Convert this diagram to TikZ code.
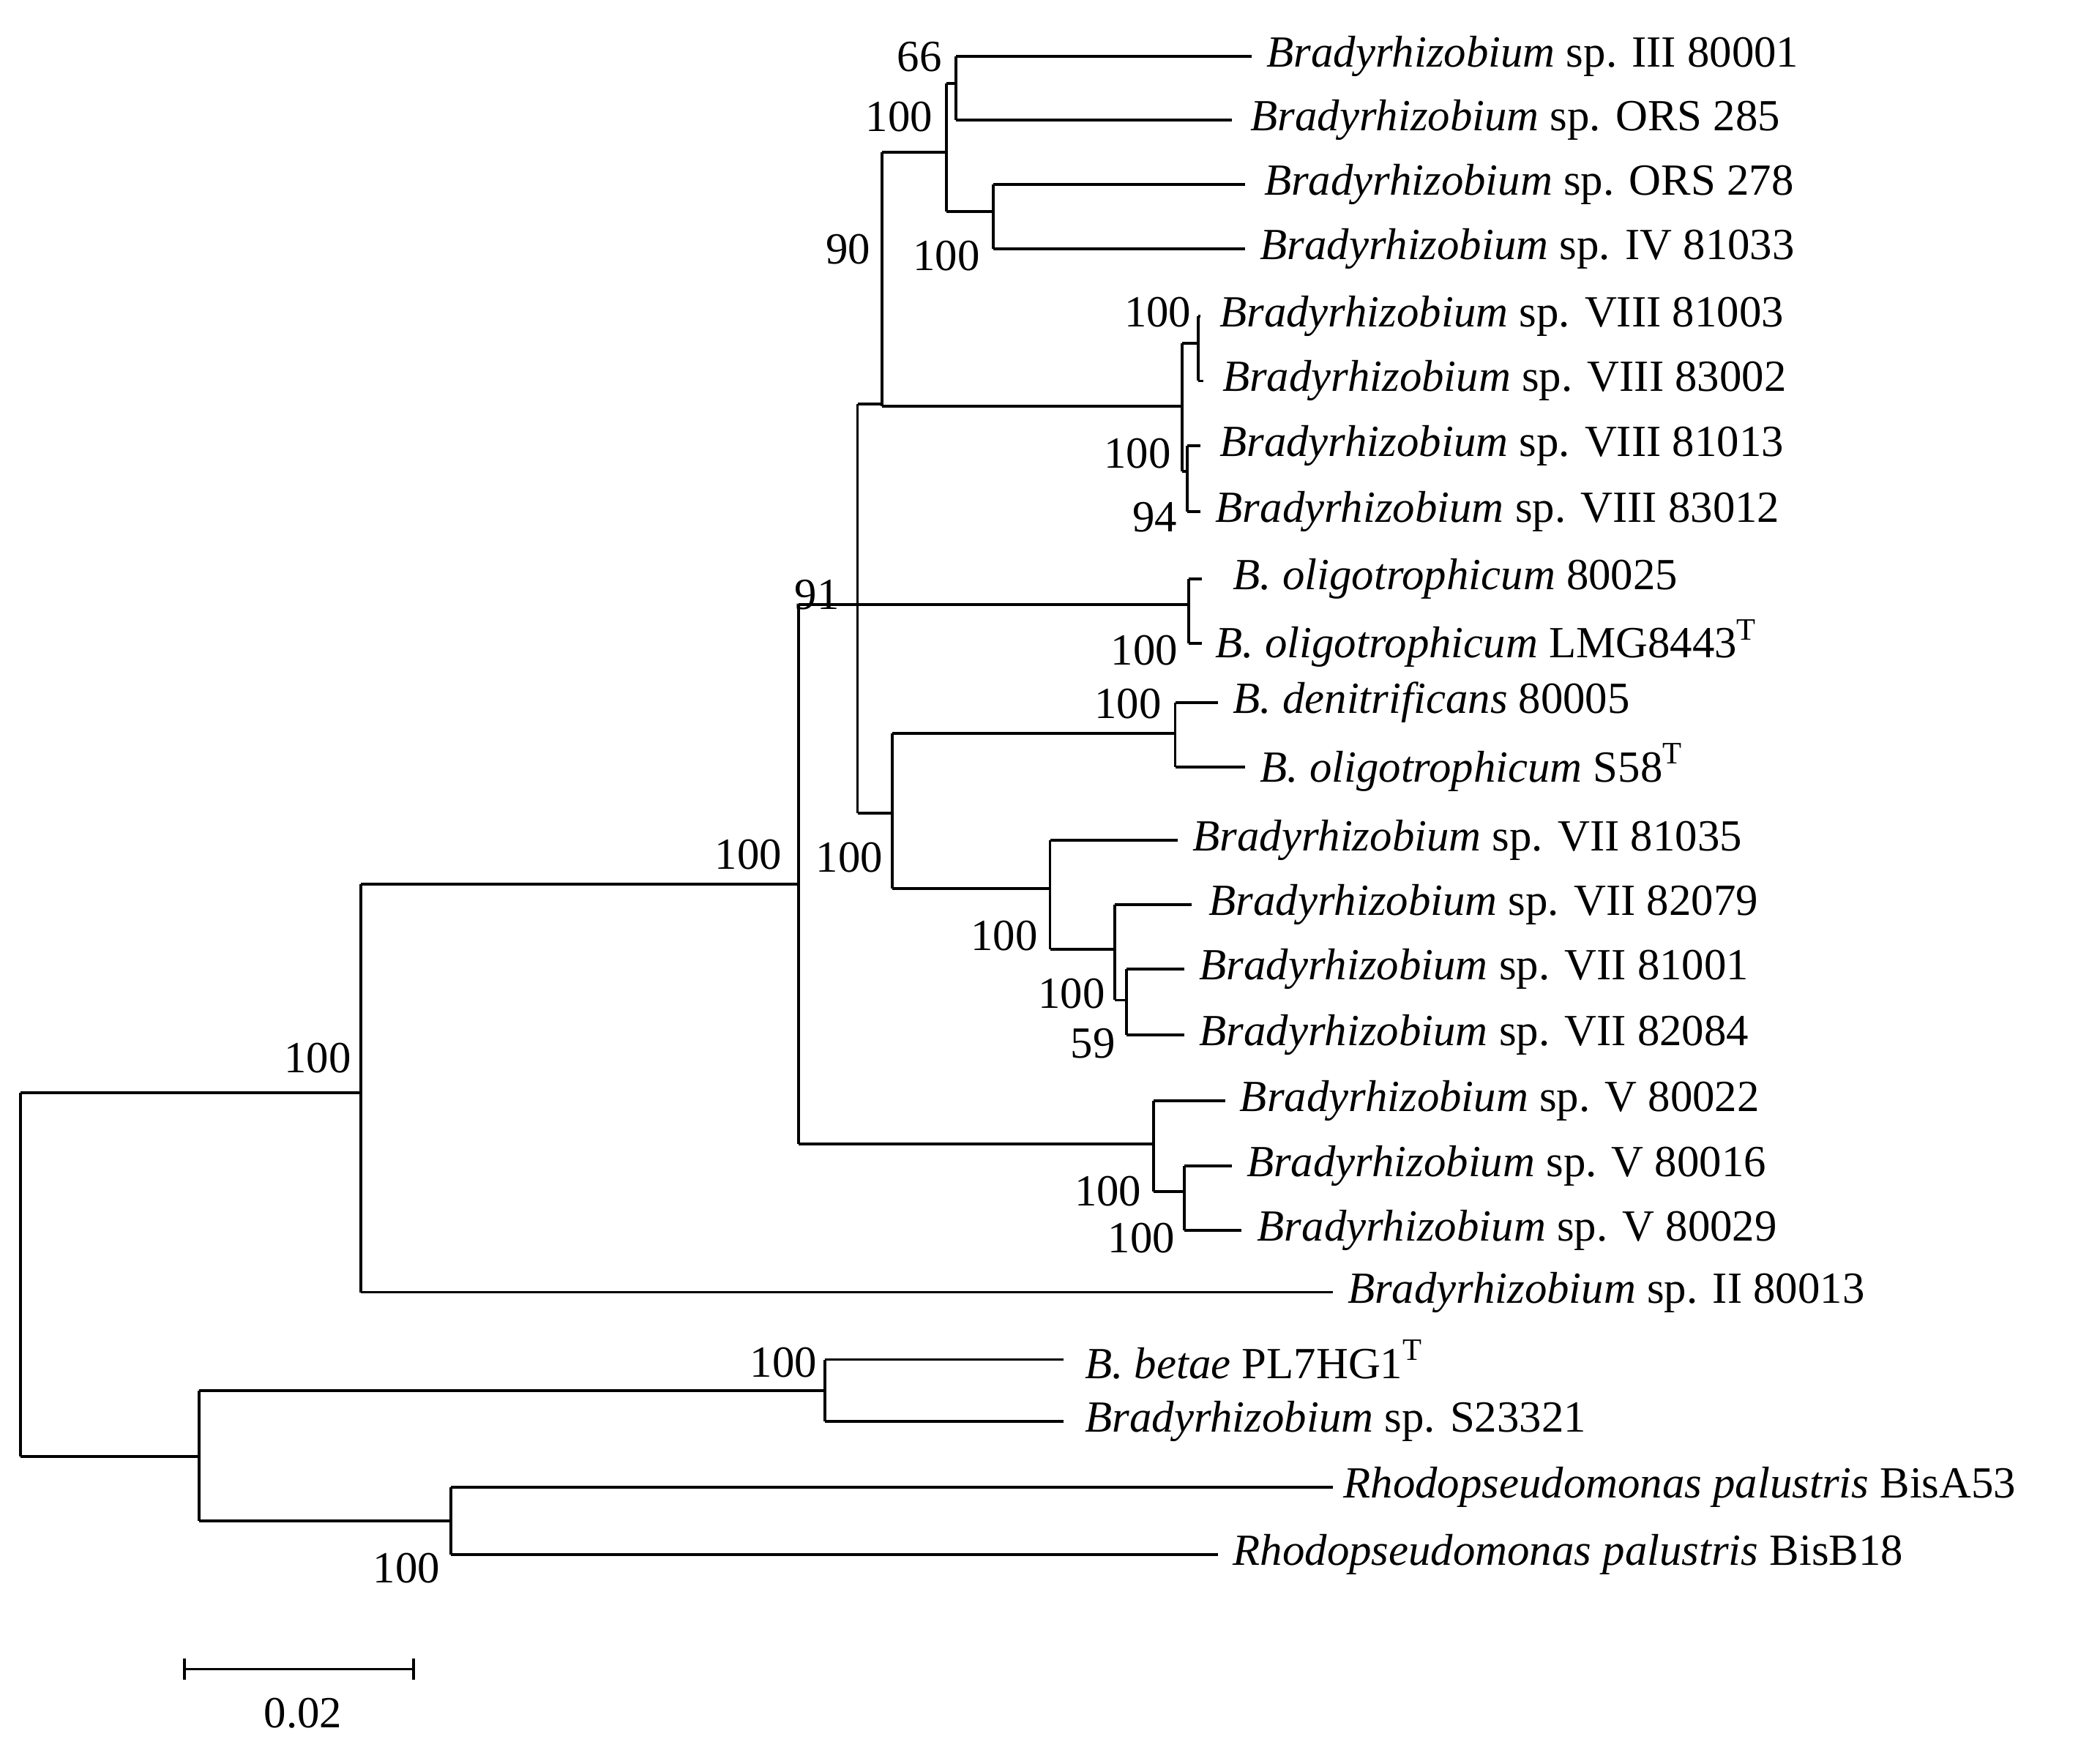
\documentclass[tikz,border=0pt]{standalone}
\usepackage{fontspec}
\setmainfont{Liberation Serif}
\begin{document}
\begin{tikzpicture}[x=0.01cm,y=-0.01cm,line width=0.6pt,
 lf/.style={anchor=west,inner sep=0pt,font=\fontsize{9.4}{10}\selectfont},
 bs/.style={inner sep=0pt,font=\fontsize{9.4}{10}\selectfont}]
\useasboundingbox (0,0) rectangle (1560,1300);
% leaves: name, y, node x, line end, label x, text
\foreach \n/\y/\px/\e/\lx/\t in {
 l1/42/710/930/940/{\textit{Bradyrhizobium} sp. III 80001},
 l2/89/710/915/928/{\textit{Bradyrhizobium} sp. ORS 285},
 l3/137/738/925/938/{\textit{Bradyrhizobium} sp. ORS 278},
 l4/185/738/925/935/{\textit{Bradyrhizobium} sp. IV 81033},
 l5/235/890/892/905/{\textit{Bradyrhizobium} sp. VIII 81003},
 l6/283/890/894/907/{\textit{Bradyrhizobium} sp. VIII 83002},
 l7/331/882/892/905/{\textit{Bradyrhizobium} sp. VIII 81013},
 l8/380/882/892/902/{\textit{Bradyrhizobium} sp. VIII 83012},
 l9/430/883/893/915/{\textit{B. oligotrophicum} 80025},
 l10/478/883/893/902/{\textit{B. oligotrophicum} LMG8443\textsuperscript{T}},
 l11/522/873/905/915/{\textit{B. denitrificans} 80005},
 l12/570/873/925/935/{\textit{B. oligotrophicum} S58\textsuperscript{T}},
 l13/624/780/875/885/{\textit{Bradyrhizobium} sp. VII 81035},
 l14/672/828/885/897/{\textit{Bradyrhizobium} sp. VII 82079},
 l15/720/837/880/890/{\textit{Bradyrhizobium} sp. VII 81001},
 l16/769/837/880/890/{\textit{Bradyrhizobium} sp. VII 82084},
 l17/818/857/910/920/{\textit{Bradyrhizobium} sp. V 80022},
 l18/866/880/915/925/{\textit{Bradyrhizobium} sp. V 80016},
 l19/914/880/922/933/{\textit{Bradyrhizobium} sp. V 80029},
 l20/960/268/990/1000/{\textit{Bradyrhizobium} sp. II 80013},
 l21/1010/613/790/805/{\textit{B. betae} PL7HG1\textsuperscript{T}},
 l22/1056/613/790/805/{\textit{Bradyrhizobium} sp. S23321},
 l23/1105/335/990/997/{\textit{Rhodopseudomonas palustris} BisA53},
 l24/1155/335/905/915/{\textit{Rhodopseudomonas palustris} BisB18}}
{\draw (\px,\y) -- (\e,\y); \node[lf] (\n) at (\lx,\y) {\t};}
% internal nodes: x, ytop, ybottom, parent x
\foreach \x/\a/\b/\p/\m in {
 15/812/1082/15/812,
 268/657/960/15/812,
 148/1033/1130/15/1082,
 613/1010/1056/148/1033,
 335/1105/1155/148/1130,
 593/449/850/268/657,
 857/818/885/593/850,
 880/866/914/857/885,
 637/300/604/593/449,
 883/430/478/637/449,
 663/545/660/637/604,
 873/522/570/663/545,
 780/624/705/663/660,
 828/672/743/780/705,
 837/720/769/828/743,
 655/113/302/637/300,
 703/62/157/655/113,
 710/42/89/703/62,
 738/137/185/703/157,
 878/255/350/655/302,
 890/235/283/878/255,
 882/331/380/878/350}
{\draw (\x,\a) -- (\x,\b); \draw (\p,\m) -- (\x,\m);}
% bootstrap values
\foreach \n/\x/\y/\t in {b1/683/42/66,b2/668/87/100,b3/703/190/100,b4/630/185/90,
 b5/860/232/100,b6/845/337/100,b7/858/384/94,b8/607/442/91,b9/850/483/100,
 b10/838/523/100,b11/631/637/100,b12/556/635/100,b13/746/695/100,b14/796/738/100,
 b15/812/775/59,b16/236/786/100,b17/823/885/100,b18/848/920/100,b19/582/1012/100,b20/302/1165/100}
{\node[bs] (\n) at (\x,\y) {\t};}
% scale bar
\coordinate (s1) at (137,1240); \coordinate (s2) at (307,1240);
\draw (s1) -- (s2);
\draw ([yshift=0.08cm]s1) -- ([yshift=-0.08cm]s1);
\draw ([yshift=0.08cm]s2) -- ([yshift=-0.08cm]s2);
\node[bs] (sl) at (225,1273) {0.02};
\end{tikzpicture}
\end{document}
